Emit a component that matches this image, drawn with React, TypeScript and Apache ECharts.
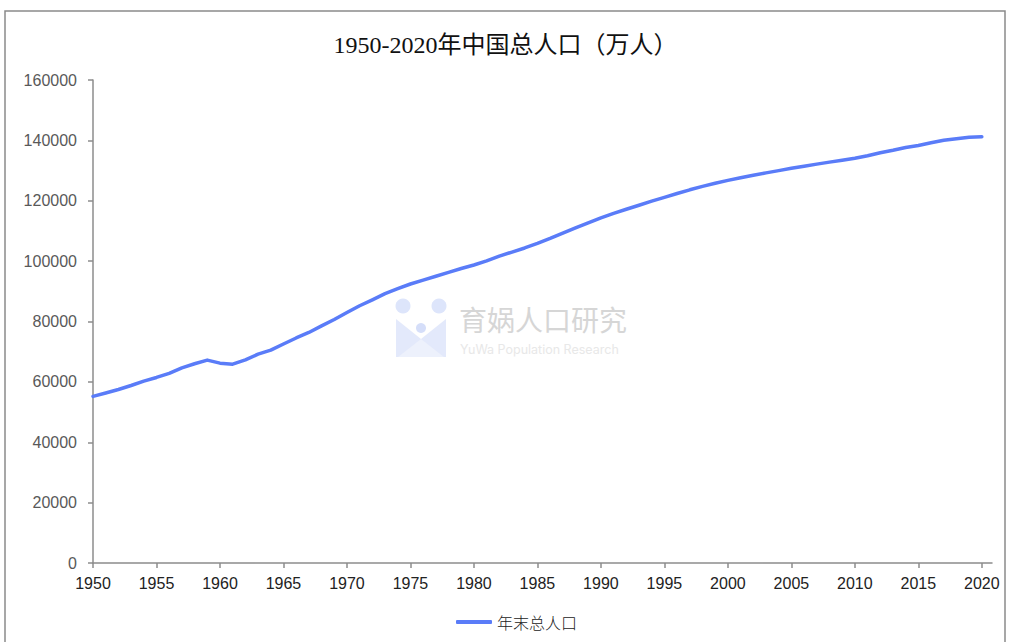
import React, { useEffect, useRef } from "react";
import * as echarts from "echarts";

const years: number[] = [
  1950, 1951, 1952, 1953, 1954, 1955, 1956, 1957, 1958, 1959,
  1960, 1961, 1962, 1963, 1964, 1965, 1966, 1967, 1968, 1969,
  1970, 1971, 1972, 1973, 1974, 1975, 1976, 1977, 1978, 1979,
  1980, 1981, 1982, 1983, 1984, 1985, 1986, 1987, 1988, 1989,
  1990, 1991, 1992, 1993, 1994, 1995, 1996, 1997, 1998, 1999,
  2000, 2001, 2002, 2003, 2004, 2005, 2006, 2007, 2008, 2009,
  2010, 2011, 2012, 2013, 2014, 2015, 2016, 2017, 2018, 2019,
  2020,
];

const population: number[] = [
  55196, 56300, 57482, 58796, 60266, 61465, 62828, 64653, 65994, 67207,
  66207, 65859, 67296, 69172, 70499, 72538, 74542, 76368, 78534, 80671,
  82992, 85229, 87177, 89211, 90859, 92420, 93717, 94974, 96259, 97542,
  98705, 100072, 101654, 103008, 104357, 105851, 107507, 109300, 111026, 112704,
  114333, 115823, 117171, 118517, 119850, 121121, 122389, 123626, 124761, 125786,
  126743, 127627, 128453, 129227, 129988, 130756, 131448, 132129, 132802, 133450,
  134091, 134916, 135922, 136726, 137646, 138326, 139232, 140011, 140541, 141008,
  141212,
];

const xTicks: number[] = [1950, 1955, 1960, 1965, 1970, 1975, 1980, 1985, 1990, 1995, 2000, 2005, 2010, 2015, 2020];

const titleText = "1950-2020年中国总人口（万人）";
const seriesName = "年末总人口";

export default function App() {
  const ref = useRef<HTMLDivElement>(null);
  useEffect(() => {
    if (!ref.current) return;
    const chart = echarts.init(ref.current, undefined, { renderer: "svg" });
    const logoColor = "#dde5fb";
    chart.setOption({
      animation: false,
      backgroundColor: "#ffffff",
      title: {
        text: titleText,
        left: "center",
        top: 28,
        textStyle: {
          fontSize: 24,
          fontWeight: "normal",
          color: "#111111",
          fontFamily: "'Liberation Serif', 'Noto Sans CJK SC', serif",
        },
      },
      graphic: [
        {
          type: "rect",
          shape: { x: 5, y: 11, width: 1000, height: 700 },
          style: { fill: "none", stroke: "#8a8a8a", lineWidth: 1.5 },
          z: -10,
        },
        {
          type: "group",
          z: -5,
          children: [
            { type: "circle", shape: { cx: 403, cy: 306, r: 7.5 }, style: { fill: logoColor } },
            { type: "circle", shape: { cx: 439, cy: 306, r: 7.5 }, style: { fill: logoColor } },
            {
              type: "polygon",
              shape: { points: [[396, 319], [421, 339], [421, 357], [396, 357]] },
              style: { fill: "#e3e9fb" },
            },
            {
              type: "polygon",
              shape: { points: [[446, 319], [421, 339], [421, 357], [446, 357]] },
              style: { fill: "#e3e9fb" },
            },
            {
              type: "polygon",
              shape: { points: [[398, 357], [421, 339], [444, 357]] },
              style: { fill: "#edf1fc" },
            },
            { type: "circle", shape: { cx: 421, cy: 328, r: 5 }, style: { fill: "#d5def9" } },
            {
              type: "text",
              style: {
                x: 459,
                y: 305,
                text: "育娲人口研究",
                fontSize: 28,
                fill: "#d6d6d6",
                fontFamily: "'Noto Sans CJK SC', sans-serif",
              },
            },
            {
              type: "text",
              style: {
                x: 460,
                y: 343,
                text: "YuWa Population Research",
                fontSize: 12.5,
                fill: "#e8e8e8",
                fontFamily: "Inter, 'Noto Sans', sans-serif",
              },
            },
          ],
        },
      ],
      legend: {
        bottom: 7,
        left: 451,
        icon: "roundRect",
        itemWidth: 36,
        itemHeight: 4,
        itemGap: 6,
        textStyle: {
          fontSize: 16,
          color: "#222222",
          fontFamily: "'Noto Sans CJK SC', sans-serif",
          fontWeight: 300,
        },
        data: [seriesName],
      },
      grid: { left: 93, right: 19, top: 80, bottom: 79, containLabel: false },
      xAxis: {
        type: "value",
        min: 1950,
        max: 2020.8,
        splitLine: { show: false },
        axisLine: { show: true, lineStyle: { color: "#8c8c8c", width: 1.5 } },
        axisTick: { show: true, length: 5, lineStyle: { color: "#8c8c8c", width: 1.5 }, customValues: xTicks },
        axisLabel: {
          customValues: xTicks,
          margin: 12,
          fontSize: 16,
          color: "#222222",
          fontFamily: "'Liberation Sans', sans-serif",
          formatter: (v: number) => String(Math.round(v)),
        },
      },
      yAxis: {
        type: "value",
        min: 0,
        max: 160000,
        interval: 20000,
        splitLine: { show: false },
        axisLine: { show: true, lineStyle: { color: "#8c8c8c", width: 1.5 } },
        axisTick: { show: true, length: 5, lineStyle: { color: "#8c8c8c", width: 1.5 } },
        axisLabel: {
          margin: 16,
          fontSize: 16,
          color: "#595959",
          fontFamily: "'Liberation Sans', sans-serif",
          formatter: (v: number) => String(v),
        },
      },
      series: [
        {
          name: seriesName,
          type: "line",
          data: years.map((y, i) => [y, population[i]]),
          symbol: "none",
          smooth: false,
          lineStyle: { color: "#5a7cf8", width: 3.5, cap: "round", join: "round" },
          itemStyle: { color: "#5a7cf8" },
        },
      ],
    });
    return () => chart.dispose();
  }, []);
  return (
    <div
      ref={ref}
      style={{ position: "fixed", left: 0, top: 0, width: 1011, height: 642, background: "#fff" }}
    />
  );
}
